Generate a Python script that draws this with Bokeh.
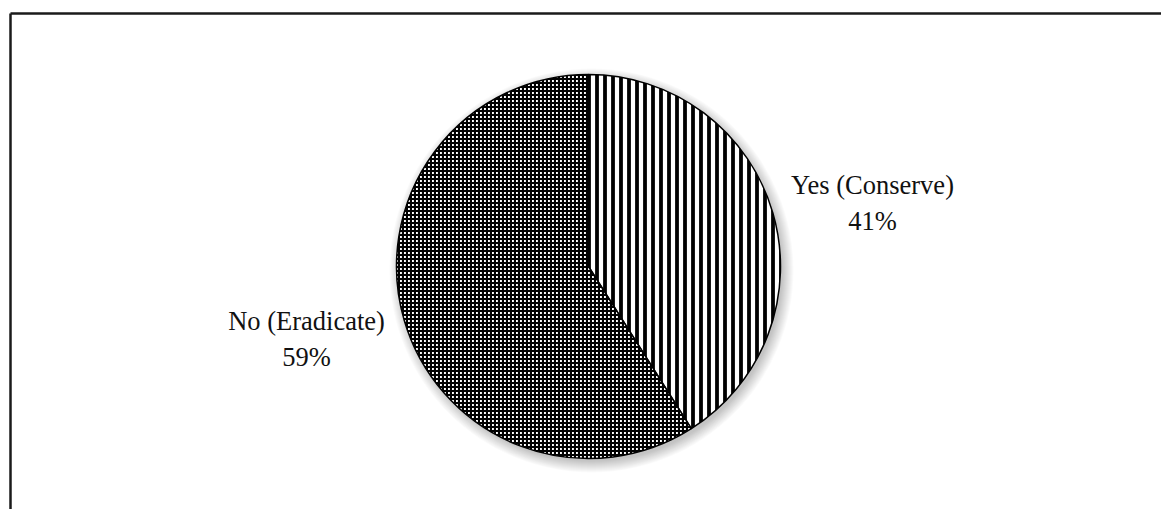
import numpy as np
from bokeh.plotting import figure
from bokeh.models import Range1d, ColumnDataSource
from bokeh.core.properties import value
from bokeh.embed import file_html
from bokeh.resources import INLINE

categories = ["Yes (Conserve)", "No (Eradicate)"]
shares = [41, 59]
labels = ["Yes (Conserve)\n41%", "No (Eradicate)\n59%"]

W, H = 1161, 509
p = figure(width=W, height=H, output_backend="svg", toolbar_location=None,
           x_range=Range1d(0, W), y_range=Range1d(0, H), min_border=0)
p.axis.visible = False
p.grid.visible = False
p.outline_line_color = None
p.background_fill_color = "white"

# frame (top and left edges visible)
p.segment(x0=[10, 10], y0=[H - 13, H - 13], x1=[W + 5, 10], y1=[H - 13, -5],
          line_color="#1a1a1a", line_width=2.5)

cx, cy, r = 588, H - 266, 192

# soft shadow
for k in range(12):
    p.circle(x=[cx + 3], y=[cy - 4], radius=r + 10 - k, fill_color="black",
             fill_alpha=0.018, line_color=None)

vals = np.array(shares, dtype=float)
frac = vals / vals.sum()
ends = np.cumsum(frac)
starts = ends - frac
start_ang = np.pi / 2 - starts * 2 * np.pi
end_ang = np.pi / 2 - ends * 2 * np.pi

# Yes slice: vertical stripes
p.wedge(x=cx, y=cy, radius=r, start_angle=start_ang[0], end_angle=end_ang[0],
        direction="clock", fill_color="white", hatch_pattern="vertical_line",
        hatch_color="black", hatch_scale=8, hatch_weight=3.8,
        line_color="black", line_width=1.5)
# No slice: dotted grid
p.wedge(x=cx, y=cy, radius=r, start_angle=start_ang[1], end_angle=end_ang[1],
        direction="clock", fill_color="white", hatch_pattern="cross",
        hatch_color="black", hatch_scale=4, hatch_weight=2.2,
        line_color="black", line_width=1.5)

# labels
lx = [872, 306]
ly = [H - 202, H - 338]
src = ColumnDataSource(dict(x=lx, y=ly, t=labels))
p.text(x="x", y="y", text="t", source=src, text_align="center",
       text_baseline="middle", text_font=value("Liberation Serif"),
       text_font_size="26.5px", text_color="#111111", text_line_height=1.2)

open("out.html", "w").write(file_html(p, INLINE))
